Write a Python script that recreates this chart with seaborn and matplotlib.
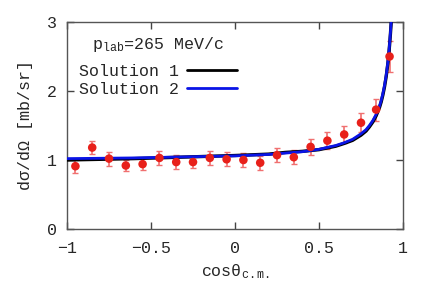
import matplotlib
matplotlib.use("Agg")
import matplotlib.pyplot as plt
import seaborn as sns
import numpy as np
import pandas as pd

# data points
cos_x = [-0.95, -0.85, -0.75, -0.65, -0.55, -0.45, -0.35, -0.25, -0.15, -0.05,
         0.05, 0.15, 0.25, 0.35, 0.45, 0.55, 0.65, 0.75, 0.84, 0.92]
dsig = [0.91, 1.18, 1.02, 0.92, 0.94, 1.03, 0.97, 0.97, 1.03, 1.01,
        1.00, 0.96, 1.07, 1.04, 1.19, 1.28, 1.37, 1.54, 1.73, 2.50]
err = [0.10, 0.10, 0.10, 0.08, 0.09, 0.10, 0.10, 0.09, 0.10, 0.10,
       0.10, 0.10, 0.10, 0.10, 0.115, 0.12, 0.125, 0.14, 0.16, 0.22]

# theory curves
curve_x = [-1.0, -0.8, -0.6, -0.4, -0.2, 0.0, 0.2, 0.3, 0.4, 0.5, 0.6, 0.65, 0.7,
           0.75, 0.78, 0.8, 0.82, 0.84, 0.86, 0.87, 0.88, 0.89, 0.90, 0.91, 0.915,
           0.92, 0.925, 0.93, 0.935]
sol2_y = [1.02, 1.025, 1.03, 1.04, 1.05, 1.06, 1.08, 1.10, 1.12, 1.155, 1.21, 1.25, 1.30,
          1.38, 1.44, 1.50, 1.57, 1.66, 1.78, 1.86, 1.96, 2.08, 2.23, 2.42, 2.54,
          2.68, 2.84, 3.02, 3.22]
sol1_y = [1.00, 1.01, 1.02, 1.035, 1.05, 1.065, 1.085, 1.11, 1.125, 1.15, 1.20, 1.24, 1.285,
          1.36, 1.42, 1.48, 1.55, 1.64, 1.76, 1.84, 1.94, 2.06, 2.21, 2.40, 2.52,
          2.66, 2.82, 3.00, 3.20]

xticks = [-1, -0.5, 0, 0.5, 1]
yticks = [0, 1, 2, 3]

sns.set_style("ticks")
plt.rcParams['font.family'] = ['Liberation Mono', 'DejaVu Sans']
plt.rcParams['mathtext.fontset'] = 'custom'
plt.rcParams['mathtext.rm'] = 'Liberation Mono'
plt.rcParams['mathtext.it'] = 'Liberation Mono'

fig = plt.figure(figsize=(4.36, 3.05), dpi=100)
ax = fig.add_axes([0.1537, 0.2492, 0.7706, 0.6787])

ax.errorbar(cos_x, dsig, yerr=err, fmt='none', ecolor='#f07070', elinewidth=1.2,
            capsize=2.5, capthick=1.0, zorder=2)

df1 = pd.DataFrame({'x': curve_x, 'y': sol1_y})
df2 = pd.DataFrame({'x': curve_x, 'y': sol2_y})
sns.lineplot(data=df1, x='x', y='y', ax=ax, color='black', lw=2.4, label='Solution 1',
             zorder=3, sort=False)
sns.lineplot(data=df2, x='x', y='y', ax=ax, color='#0a14e6', lw=2.0, label='Solution 2',
             zorder=4, sort=False)

pts = pd.DataFrame({'x': cos_x, 'y': dsig})
sns.scatterplot(data=pts, x='x', y='y', ax=ax, color='#e8201a', s=38, edgecolor='none',
                zorder=5, legend=False)

ax.set_xlim(-1, 1)
ax.set_ylim(0, 3)
ax.set_xticks(xticks)
ax.set_xticklabels(['−1', '−0.5', '0', '0.5', '1'])
ax.set_yticks(yticks)
ax.tick_params(direction='in', length=5, width=1, top=True, right=True,
               labelsize=12, color='#444444')
ax.tick_params(axis='x', pad=9)
ax.tick_params(axis='y', pad=7)
for s in ax.spines.values():
    s.set_color('#555555')
    s.set_linewidth(1.0)

ax.set_xlabel('cosθ$_{\\mathrm{c.m.}}$', fontsize=12, labelpad=4)
ax.set_ylabel('dσ/dΩ [mb/sr]', fontsize=12, labelpad=10)

leg = ax.legend(title='p$_{\\mathrm{lab}}$=265 MeV/c', loc='upper left',
                bbox_to_anchor=(-0.01, 1.0085), frameon=False, markerfirst=False,
                fontsize=12, title_fontsize=12, handlelength=3.0,
                handletextpad=0.5, labelspacing=0.2, borderpad=0.4)
leg._legend_box.sep = 7
for line in leg.get_lines():
    line.set_linewidth(2.0)

fig.savefig('out.png', dpi=100)
